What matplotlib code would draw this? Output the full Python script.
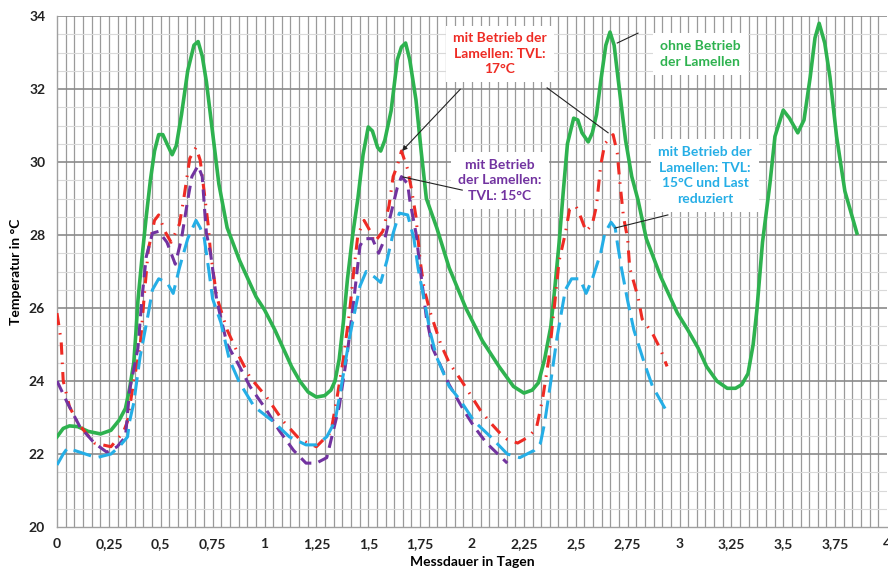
import matplotlib
matplotlib.use("Agg")
import matplotlib.pyplot as plt
import numpy as np
from matplotlib.ticker import FuncFormatter

plt.rcParams['font.family'] = ['Lato', 'DejaVu Sans']
plt.rcParams['font.weight'] = 'bold'

# ohne Betrieb der Lamellen (green)
green_x = [0.00, 0.03, 0.06, 0.10, 0.15, 0.21, 0.26, 0.30, 0.33, 0.35, 0.37, 0.38, 0.39, 0.41, 0.43,
           0.45, 0.47, 0.49, 0.51, 0.53, 0.555, 0.575, 0.60, 0.63, 0.66, 0.68, 0.70, 0.72, 0.75, 0.78,
           0.82, 0.88, 0.96, 1.00, 1.05, 1.09, 1.13, 1.17, 1.21, 1.25, 1.29, 1.32, 1.34, 1.36, 1.38,
           1.40, 1.425, 1.45, 1.475, 1.50, 1.52, 1.545, 1.56, 1.58, 1.61, 1.64, 1.66, 1.68, 1.70, 1.73,
           1.755, 1.78, 1.83, 1.89, 1.97, 2.05, 2.13, 2.20, 2.25, 2.29, 2.32, 2.35, 2.38, 2.40, 2.42,
           2.44, 2.46, 2.49, 2.51, 2.53, 2.56, 2.58, 2.60, 2.62, 2.645, 2.665, 2.685, 2.71, 2.74, 2.77,
           2.80, 2.84, 2.91, 2.99, 3.04, 3.09, 3.13, 3.18, 3.23, 3.27, 3.30, 3.33, 3.355, 3.373, 3.40,
           3.436, 3.46, 3.50, 3.53, 3.57, 3.60, 3.63, 3.653, 3.673, 3.70, 3.725, 3.757, 3.797, 3.855]
green_y = [22.47, 22.70, 22.77, 22.75, 22.62, 22.55, 22.65, 22.93, 23.25, 23.80, 24.50, 25.30, 26.20, 27.40, 28.50,
           29.50, 30.30, 30.75, 30.75, 30.50, 30.20, 30.45, 31.30, 32.50, 33.20, 33.30, 32.90, 32.20, 30.80, 29.40,
           28.20, 27.30, 26.30, 25.95, 25.40, 24.90, 24.40, 24.00, 23.70, 23.56, 23.60, 23.75, 24.00, 24.60, 25.60,
           26.80, 28.00, 29.00, 30.20, 30.96, 30.85, 30.40, 30.30, 30.60, 31.40, 32.80, 33.15, 33.26, 32.80, 31.70,
           30.30, 29.00, 28.20, 27.10, 26.00, 25.10, 24.40, 23.85, 23.67, 23.75, 23.95, 24.60, 25.50, 26.60, 27.80,
           29.20, 30.50, 31.20, 31.15, 30.80, 30.55, 30.80, 31.30, 32.20, 33.20, 33.56, 33.20, 32.00, 30.60, 29.60,
           28.96, 27.90, 26.85, 25.86, 25.40, 24.90, 24.40, 24.00, 23.80, 23.80, 23.90, 24.20, 25.00, 25.95, 27.80,
           29.42, 30.70, 31.42, 31.20, 30.80, 31.15, 32.33, 33.40, 33.80, 33.26, 32.33, 30.70, 29.20, 28.05]

# mit Betrieb der Lamellen: TVL 17 °C (red)
red_x = [0.00, 0.02, 0.03, 0.06, 0.10, 0.18, 0.26, 0.32, 0.34, 0.37, 0.40, 0.42, 0.44, 0.47, 0.49,
         0.52, 0.55, 0.59, 0.61, 0.64, 0.67, 0.69, 0.71, 0.73, 0.74, 0.77, 0.82, 0.88, 0.93, 1.01,
         1.09, 1.17, 1.25, 1.32, 1.35, 1.38, 1.41, 1.43, 1.45, 1.48, 1.51, 1.53, 1.57, 1.60, 1.62,
         1.64, 1.66, 1.69, 1.71, 1.73, 1.75, 1.77, 1.80, 1.85, 1.89, 1.95, 2.04, 2.09, 2.13, 2.17,
         2.22, 2.27, 2.31, 2.34, 2.37, 2.40, 2.42, 2.45, 2.47, 2.50, 2.52, 2.55, 2.58, 2.60, 2.62,
         2.64, 2.68, 2.70, 2.71, 2.73, 2.75, 2.76, 2.80, 2.82, 2.87, 2.91, 2.94]
red_y = [25.86, 25.1, 24.0, 23.3, 22.85, 22.3, 22.2, 22.6, 22.9, 24.0, 24.9, 26.3, 27.6, 28.4, 28.55,
         28.1, 27.8, 28.3, 28.96, 30.1, 30.4, 30.05, 29.15, 28.2, 27.5, 26.3, 25.4, 24.65, 24.1, 23.56,
         22.9, 22.4, 22.2, 22.6, 23.56, 24.6, 25.9, 27.0, 28.0, 28.4, 28.1, 27.8, 28.1, 28.8, 29.6,
         29.9, 30.3, 29.8, 29.2, 28.5, 27.3, 26.5, 25.86, 25.0, 24.5, 24.0, 23.2, 22.85, 22.6, 22.4,
         22.3, 22.46, 22.7, 23.5, 24.6, 26.2, 27.3, 28.05, 28.7, 28.8, 28.55, 28.1, 28.3, 28.8, 29.9,
         30.5, 30.75, 30.25, 29.6, 28.5, 27.9, 27.1, 26.3, 25.7, 25.3, 24.85, 24.4]

# mit Betrieb der Lamellen: TVL 15 °C (purple)
purple_x = [0.00, 0.05, 0.11, 0.18, 0.24, 0.29, 0.33, 0.35, 0.39, 0.41, 0.43, 0.46, 0.49, 0.53, 0.57,
            0.60, 0.63, 0.65, 0.68, 0.70, 0.71, 0.72, 0.74, 0.77, 0.82, 0.87, 0.93, 1.01, 1.07, 1.14,
            1.20, 1.25, 1.30, 1.33, 1.36, 1.40, 1.43, 1.46, 1.48, 1.52, 1.55, 1.58, 1.61, 1.64, 1.66,
            1.69, 1.70, 1.73, 1.75, 1.78, 1.81, 1.89, 1.96, 2.01, 2.07, 2.17]
purple_y = [24.0, 23.4, 22.75, 22.3, 22.05, 22.2, 22.47, 23.75, 24.9, 26.3, 27.4, 28.05, 28.1, 27.8, 27.2,
            27.9, 28.96, 29.6, 29.9, 29.6, 28.8, 28.05, 27.5, 26.2, 25.0, 24.5, 23.85, 23.2, 22.65, 22.1,
            21.75, 21.75, 21.9, 22.6, 23.3, 24.8, 26.2, 27.7, 27.9, 27.9, 27.5, 27.9, 28.6, 29.3, 29.6,
            29.4, 28.96, 28.05, 27.1, 25.75, 24.9, 23.9, 23.2, 22.75, 22.3, 21.75]

# mit Betrieb der Lamellen: TVL 15 °C und Last reduziert (cyan)
cyan_x = [0.00, 0.03, 0.05, 0.11, 0.19, 0.26, 0.30, 0.34, 0.35, 0.37, 0.40, 0.44, 0.46, 0.49, 0.53,
          0.56, 0.59, 0.63, 0.67, 0.69, 0.71, 0.73, 0.75, 0.79, 0.83, 0.88, 0.95, 1.04, 1.12, 1.20,
          1.25, 1.30, 1.34, 1.37, 1.41, 1.46, 1.49, 1.53, 1.56, 1.59, 1.62, 1.65, 1.69, 1.72, 1.74,
          1.77, 1.80, 1.83, 1.89, 1.94, 2.01, 2.09, 2.17, 2.23, 2.30, 2.33, 2.35, 2.38, 2.41, 2.45,
          2.48, 2.52, 2.55, 2.58, 2.62, 2.64, 2.67, 2.69, 2.70, 2.72, 2.75, 2.78, 2.83, 2.87, 2.94]
cyan_y = [21.7, 22.0, 22.16, 22.05, 21.9, 22.0, 22.2, 22.47, 22.9, 23.4, 24.65, 25.85, 26.5, 26.8, 26.7,
          26.4, 27.1, 27.9, 28.4, 28.2, 27.9, 27.1, 26.25, 25.6, 24.6, 23.95, 23.3, 22.9, 22.47, 22.25,
          22.25, 22.47, 22.9, 23.85, 25.2, 26.6, 27.0, 26.85, 26.7, 27.3, 28.05, 28.6, 28.55, 27.9, 27.1,
          26.2, 25.3, 24.65, 23.85, 23.5, 22.9, 22.47, 22.0, 21.9, 22.1, 22.3, 22.85, 24.0, 25.2, 26.5,
          26.8, 26.8, 26.4, 26.8, 27.5, 28.05, 28.35, 28.2, 27.8, 27.1, 26.2, 25.4, 24.5, 23.85, 23.15]

x_ticks = [0, 0.25, 0.5, 0.75, 1, 1.25, 1.5, 1.75, 2, 2.25, 2.5, 2.75, 3, 3.25, 3.5, 3.75, 4]
y_ticks = [20, 22, 24, 26, 28, 30, 32, 34]

fig = plt.figure(figsize=(8.88, 5.76), dpi=100)
ax = fig.add_axes([57 / 888, 1 - 527 / 576, 830 / 888, 511 / 576])

ax.set_xlim(0, 4)
ax.set_ylim(20, 34)

# Excel-style grid: hourly vertical lines, 0.5 K minor / 2 K major horizontal lines
for h in np.arange(1, 96) / 24:
    ax.axvline(h, color='#9a9a9a', lw=0.9, zorder=0)
for t in np.arange(20.5, 34, 0.5):
    if t % 2 != 0:
        ax.axhline(t, color='#d9d9d9', lw=0.8, zorder=0)
for t in y_ticks[1:]:
    ax.axhline(t, color='#8a8a8a', lw=1.2, zorder=0)

ax.plot(green_x, green_y, color='#2eb24f', lw=2.6, solid_joinstyle='round', zorder=3)
ax.plot(red_x, red_y, color='#ee2b24', lw=2.2, linestyle=(0, (4, 2.6, 0.5, 2.6)), zorder=4)
ax.plot(purple_x, purple_y, color='#7233a0', lw=2.2, linestyle=(0, (4, 2.4)), zorder=4)
ax.plot(cyan_x, cyan_y, color='#25aee6', lw=2.2, linestyle=(0, (6, 2.6)), zorder=4)

ax.set_xticks(x_ticks)
ax.set_yticks(y_ticks)
ax.xaxis.set_major_formatter(FuncFormatter(lambda v, p: ('%g' % v).replace('.', ',')))
ax.tick_params(length=0, labelsize=10, labelcolor='#222222')
ax.tick_params(axis='x', pad=8)
ax.tick_params(axis='y', pad=8.5)
for s in ['top', 'right']:
    ax.spines[s].set_visible(False)
for s in ['left', 'bottom']:
    ax.spines[s].set_color('#a0a0a0')
    ax.spines[s].set_linewidth(1.0)

ax.set_xlabel('Messdauer in Tagen', fontsize=10, fontweight='bold', labelpad=4)
ax.set_ylabel('Temperatur in °C', fontsize=10, fontweight='bold', labelpad=5)

box = dict(boxstyle='square,pad=0.5', fc='white', ec='none')
arrow_kw = dict(color='#222222', lw=0.8)
txt_kw = dict(fontsize=10, fontweight='bold', ha='center', va='center', linespacing=1.35,
              bbox=box, zorder=6)

ax.text(2.135, 32.96, 'mit Betrieb der\nLamellen: TVL:\n17°C', color='#ee2b24', **txt_kw)
ax.text(3.10, 32.96, 'ohne Betrieb\nder Lamellen', color='#2eb24f', **txt_kw)
ax.text(2.135, 29.5, 'mit Betrieb\nder Lamellen:\nTVL: 15°C', color='#7233a0', **txt_kw)
ax.text(3.123, 29.63, 'mit Betrieb der\nLamellen: TVL:\n15°C und Last\nreduziert', color='#25aee6', **txt_kw)

ax.annotate('', xy=(1.654, 30.25), xytext=(1.953, 32.05),
            arrowprops=dict(arrowstyle='-|>', mutation_scale=7, **arrow_kw), zorder=7)
ax.plot([2.362, 2.656], [32.03, 30.8], zorder=7, **arrow_kw)
ax.plot([2.80, 2.70], [33.53, 33.26], zorder=7, **arrow_kw)
ax.plot([1.953, 1.668], [29.23, 29.59], zorder=7, **arrow_kw)
ax.plot([2.944, 2.689], [28.55, 28.19], zorder=7, **arrow_kw)

fig.savefig('out.png', dpi=100)
